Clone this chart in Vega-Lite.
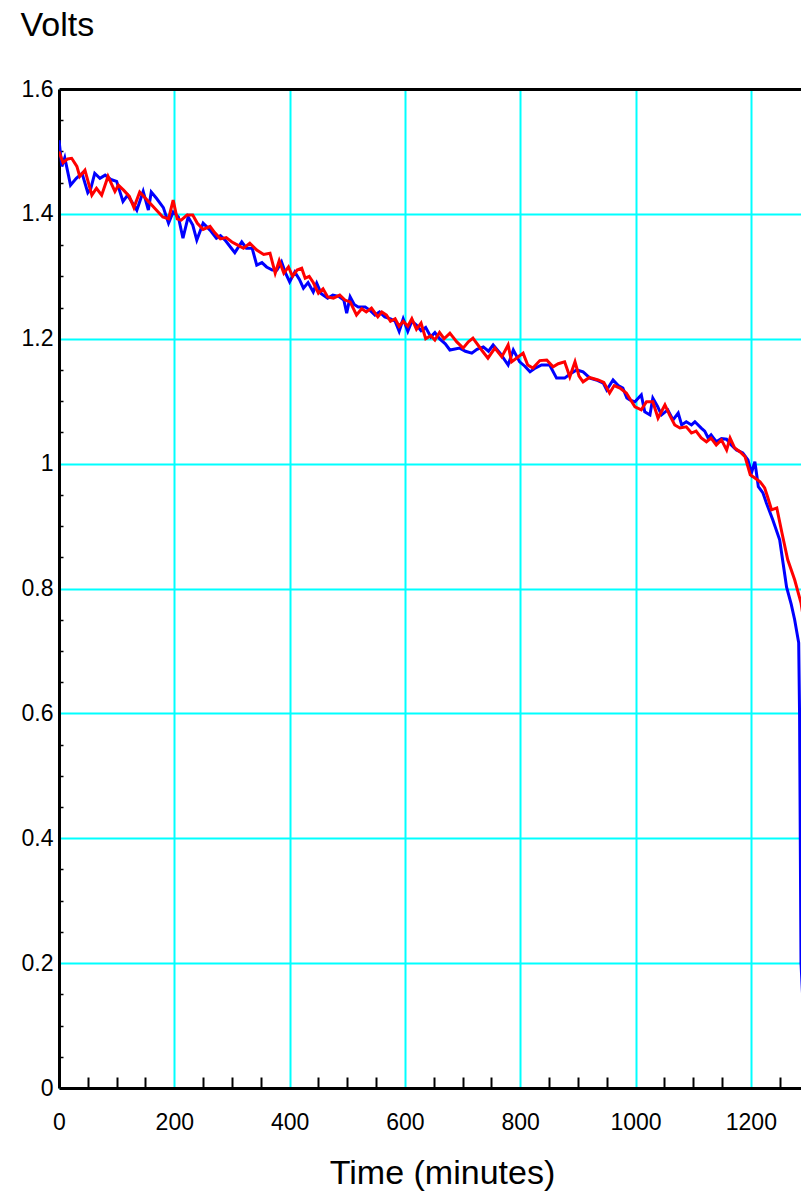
{
  "$schema": "https://vega.github.io/schema/vega-lite/v6.json",
  "width": 742,
  "height": 999,
  "autosize": {"type": "none"},
  "padding": {"left": 59, "top": 89, "right": 0, "bottom": 110},
  "background": "white",
  "config": {
    "view": {"stroke": null},
    "font": "Liberation Sans"
  },
  "datasets": {
    "blue": [
      {"t":0,"v":1.518},{"t":5,"v":1.476},{"t":10,"v":1.49},{"t":20,"v":1.446},{"t":30,"v":1.457},{"t":40,"v":1.465},{"t":50,"v":1.434},{"t":55,"v":1.44},{"t":62,"v":1.465},{"t":71,"v":1.457},{"t":80,"v":1.462},{"t":90,"v":1.455},{"t":100,"v":1.452},{"t":111,"v":1.42},{"t":119,"v":1.43},{"t":127,"v":1.418},{"t":135,"v":1.406},{"t":146,"v":1.436},{"t":155,"v":1.406},{"t":160,"v":1.435},{"t":169,"v":1.425},{"t":181,"v":1.41},{"t":190,"v":1.385},{"t":198,"v":1.403},{"t":207,"v":1.395},{"t":215,"v":1.361},{"t":224,"v":1.395},{"t":232,"v":1.382},{"t":239,"v":1.358},{"t":250,"v":1.385},{"t":262,"v":1.374},{"t":273,"v":1.361},{"t":280,"v":1.365},{"t":288,"v":1.358},{"t":299,"v":1.345},{"t":305,"v":1.338},{"t":317,"v":1.355},{"t":325,"v":1.345},{"t":335,"v":1.345},{"t":343,"v":1.318},{"t":352,"v":1.322},{"t":360,"v":1.315},{"t":370,"v":1.31},{"t":378,"v":1.31},{"t":386,"v":1.323},{"t":393,"v":1.305},{"t":400,"v":1.291},{"t":409,"v":1.307},{"t":417,"v":1.295},{"t":424,"v":1.281},{"t":432,"v":1.29},{"t":441,"v":1.275},{"t":447,"v":1.289},{"t":455,"v":1.272},{"t":466,"v":1.265},{"t":475,"v":1.27},{"t":485,"v":1.268},{"t":494,"v":1.262},{"t":499,"v":1.241},{"t":505,"v":1.267},{"t":512,"v":1.255},{"t":519,"v":1.251},{"t":531,"v":1.251},{"t":540,"v":1.245},{"t":548,"v":1.238},{"t":556,"v":1.243},{"t":565,"v":1.235},{"t":575,"v":1.232},{"t":583,"v":1.228},{"t":590,"v":1.212},{"t":597,"v":1.232},{"t":605,"v":1.212},{"t":612,"v":1.228},{"t":620,"v":1.222},{"t":628,"v":1.213},{"t":636,"v":1.218},{"t":645,"v":1.203},{"t":652,"v":1.21},{"t":660,"v":1.2},{"t":670,"v":1.192},{"t":678,"v":1.182},{"t":695,"v":1.185},{"t":705,"v":1.18},{"t":716,"v":1.177},{"t":725,"v":1.183},{"t":736,"v":1.187},{"t":745,"v":1.18},{"t":753,"v":1.19},{"t":765,"v":1.177},{"t":779,"v":1.158},{"t":788,"v":1.182},{"t":799,"v":1.163},{"t":808,"v":1.156},{"t":817,"v":1.147},{"t":826,"v":1.153},{"t":837,"v":1.158},{"t":851,"v":1.158},{"t":863,"v":1.137},{"t":877,"v":1.137},{"t":887,"v":1.144},{"t":898,"v":1.15},{"t":909,"v":1.147},{"t":921,"v":1.137},{"t":932,"v":1.134},{"t":944,"v":1.129},{"t":950,"v":1.118},{"t":961,"v":1.134},{"t":970,"v":1.125},{"t":978,"v":1.121},{"t":985,"v":1.105},{"t":990,"v":1.102},{"t":999,"v":1.099},{"t":1007,"v":1.107},{"t":1010,"v":1.11},{"t":1016,"v":1.083},{"t":1025,"v":1.078},{"t":1030,"v":1.105},{"t":1038,"v":1.092},{"t":1045,"v":1.078},{"t":1056,"v":1.086},{"t":1065,"v":1.07},{"t":1074,"v":1.081},{"t":1080,"v":1.062},{"t":1088,"v":1.067},{"t":1097,"v":1.062},{"t":1103,"v":1.067},{"t":1114,"v":1.057},{"t":1120,"v":1.052},{"t":1126,"v":1.041},{"t":1131,"v":1.046},{"t":1140,"v":1.035},{"t":1149,"v":1.04},{"t":1158,"v":1.039},{"t":1166,"v":1.03},{"t":1175,"v":1.022},{"t":1186,"v":1.017},{"t":1195,"v":1.006},{"t":1201,"v":0.985},{"t":1207,"v":1.003},{"t":1213,"v":0.963},{"t":1221,"v":0.953},{"t":1227,"v":0.937},{"t":1238,"v":0.91},{"t":1250,"v":0.878},{"t":1256,"v":0.84},{"t":1262,"v":0.802},{"t":1270,"v":0.775},{"t":1276,"v":0.75},{"t":1283,"v":0.713},{"t":1284.5,"v":0.6},{"t":1287,"v":0.2},{"t":1295,"v":0.05}
    ],
    "red": [
      {"t":0,"v":1.5},{"t":7,"v":1.482},{"t":15,"v":1.488},{"t":22,"v":1.489},{"t":31,"v":1.476},{"t":36,"v":1.46},{"t":45,"v":1.47},{"t":57,"v":1.43},{"t":65,"v":1.441},{"t":74,"v":1.43},{"t":85,"v":1.46},{"t":97,"v":1.436},{"t":103,"v":1.446},{"t":112,"v":1.438},{"t":122,"v":1.428},{"t":130,"v":1.41},{"t":140,"v":1.435},{"t":150,"v":1.425},{"t":160,"v":1.415},{"t":170,"v":1.405},{"t":180,"v":1.395},{"t":190,"v":1.392},{"t":198,"v":1.422},{"t":205,"v":1.392},{"t":212,"v":1.39},{"t":222,"v":1.398},{"t":232,"v":1.398},{"t":240,"v":1.385},{"t":250,"v":1.375},{"t":262,"v":1.38},{"t":270,"v":1.37},{"t":280,"v":1.36},{"t":290,"v":1.362},{"t":300,"v":1.355},{"t":310,"v":1.35},{"t":320,"v":1.345},{"t":331,"v":1.353},{"t":343,"v":1.342},{"t":355,"v":1.335},{"t":366,"v":1.337},{"t":375,"v":1.305},{"t":382,"v":1.325},{"t":390,"v":1.305},{"t":398,"v":1.315},{"t":405,"v":1.3},{"t":413,"v":1.31},{"t":421,"v":1.313},{"t":427,"v":1.297},{"t":434,"v":1.3},{"t":441,"v":1.29},{"t":450,"v":1.273},{"t":458,"v":1.28},{"t":466,"v":1.267},{"t":476,"v":1.265},{"t":487,"v":1.27},{"t":496,"v":1.262},{"t":505,"v":1.259},{"t":516,"v":1.238},{"t":525,"v":1.248},{"t":533,"v":1.243},{"t":542,"v":1.249},{"t":553,"v":1.235},{"t":560,"v":1.243},{"t":568,"v":1.238},{"t":575,"v":1.228},{"t":583,"v":1.232},{"t":590,"v":1.22},{"t":597,"v":1.228},{"t":605,"v":1.22},{"t":612,"v":1.232},{"t":620,"v":1.215},{"t":628,"v":1.225},{"t":636,"v":1.2},{"t":645,"v":1.205},{"t":652,"v":1.198},{"t":660,"v":1.21},{"t":668,"v":1.2},{"t":678,"v":1.209},{"t":690,"v":1.195},{"t":701,"v":1.185},{"t":710,"v":1.195},{"t":718,"v":1.201},{"t":733,"v":1.182},{"t":744,"v":1.169},{"t":756,"v":1.185},{"t":768,"v":1.171},{"t":779,"v":1.19},{"t":785,"v":1.163},{"t":795,"v":1.17},{"t":805,"v":1.177},{"t":813,"v":1.158},{"t":822,"v":1.153},{"t":834,"v":1.165},{"t":846,"v":1.166},{"t":857,"v":1.155},{"t":866,"v":1.16},{"t":877,"v":1.163},{"t":886,"v":1.139},{"t":895,"v":1.163},{"t":902,"v":1.14},{"t":909,"v":1.131},{"t":920,"v":1.138},{"t":935,"v":1.134},{"t":945,"v":1.13},{"t":955,"v":1.113},{"t":963,"v":1.125},{"t":973,"v":1.121},{"t":984,"v":1.113},{"t":999,"v":1.091},{"t":1010,"v":1.086},{"t":1019,"v":1.099},{"t":1030,"v":1.099},{"t":1039,"v":1.073},{"t":1051,"v":1.094},{"t":1059,"v":1.078},{"t":1068,"v":1.062},{"t":1077,"v":1.057},{"t":1088,"v":1.059},{"t":1097,"v":1.049},{"t":1105,"v":1.052},{"t":1114,"v":1.041},{"t":1123,"v":1.035},{"t":1131,"v":1.041},{"t":1140,"v":1.03},{"t":1149,"v":1.038},{"t":1158,"v":1.022},{"t":1164,"v":1.041},{"t":1172,"v":1.025},{"t":1181,"v":1.019},{"t":1190,"v":1.011},{"t":1199,"v":0.982},{"t":1207,"v":0.977},{"t":1216,"v":0.971},{"t":1224,"v":0.961},{"t":1229,"v":0.947},{"t":1236,"v":0.926},{"t":1245,"v":0.929},{"t":1254,"v":0.889},{"t":1264,"v":0.846},{"t":1276,"v":0.814},{"t":1287,"v":0.777},{"t":1300,"v":0.7}
    ]
  },
  "encoding": {
    "x": {
      "field": "t", "type": "quantitative",
      "scale": {"domain": [0, 1287], "nice": false, "zero": false},
      "axis": {
        "values": [0,50,100,150,200,250,300,350,400,450,500,550,600,650,700,750,800,850,900,950,1000,1050,1100,1150,1200,1250],
        "labelExpr": "datum.value % 200 === 0 ? datum.label : ''",
        "format": "d",
        "labelFlush": false,
        "labelOverlap": false,
        "labelFontSize": 23,
        "labelFont": "Liberation Sans",
        "labelColor": "black",
        "labelPadding": 34,
        "tickSize": -11,
        "tickWidth": 2,
        "tickColor": "black",
        "tickOpacity": {"condition": {"test": "datum.value % 200 === 0", "value": 0}, "value": 1},
        "grid": true,
        "gridColor": "#00ffff",
        "gridWidth": 2,
        "gridOpacity": {"condition": {"test": "datum.value % 200 === 0", "value": 1}, "value": 0},
        "domainColor": "black",
        "domainWidth": 3,
        "title": "Time (minutes)",
        "titleFont": "Liberation Sans",
        "titleFontSize": 34,
        "titleFontWeight": "normal",
        "titleColor": "black",
        "titleX": 383,
        "titleY": 95,
        "titleAlign": "center",
        "titleBaseline": "alphabetic"
      }
    },
    "y": {
      "field": "v", "type": "quantitative",
      "scale": {"domain": [0, 1.6], "nice": false, "zero": false},
      "axis": {
        "values": [0,0.05,0.1,0.15,0.2,0.25,0.3,0.35,0.4,0.45,0.5,0.55,0.6,0.65,0.7,0.75,0.8,0.85,0.9,0.95,1,1.05,1.1,1.15,1.2,1.25,1.3,1.35,1.4,1.45,1.5,1.55,1.6],
        "labelExpr": "abs(datum.value*5 - round(datum.value*5)) < 0.001 ? format(datum.value, '~g') : ''",
        "labelFlush": false,
        "labelOverlap": false,
        "labelFontSize": 23,
        "labelFont": "Liberation Sans",
        "labelColor": "black",
        "labelPadding": 10,
        "tickSize": -4,
        "tickWidth": 1.5,
        "tickColor": "black",
        "tickOpacity": {"condition": {"test": "abs(datum.value*5 - round(datum.value*5)) < 0.001", "value": 0}, "value": 1},
        "grid": true,
        "gridColor": {"condition": {"test": "datum.value > 1.599", "value": "black"}, "value": "#00ffff"},
        "gridWidth": {"condition": {"test": "datum.value > 1.599", "value": 3}, "value": 2},
        "gridOpacity": {"condition": {"test": "abs(datum.value*5 - round(datum.value*5)) < 0.001", "value": 1}, "value": 0},
        "domainColor": "black",
        "domainWidth": 3,
        "title": "Volts",
        "titleFont": "Liberation Sans",
        "titleFontSize": 34,
        "titleFontWeight": "normal",
        "titleColor": "black",
        "titleAngle": 0,
        "titleAlign": "left",
        "titleBaseline": "alphabetic",
        "titleX": -39,
        "titleY": -54
      }
    }
  },
  "layer": [
    {
      "data": {"name": "blue"},
      "mark": {"type": "line", "color": "#0000ff", "strokeWidth": 3, "clip": true}
    },
    {
      "data": {"name": "red"},
      "mark": {"type": "line", "color": "#ff0000", "strokeWidth": 3, "clip": true}
    }
  ]
}
